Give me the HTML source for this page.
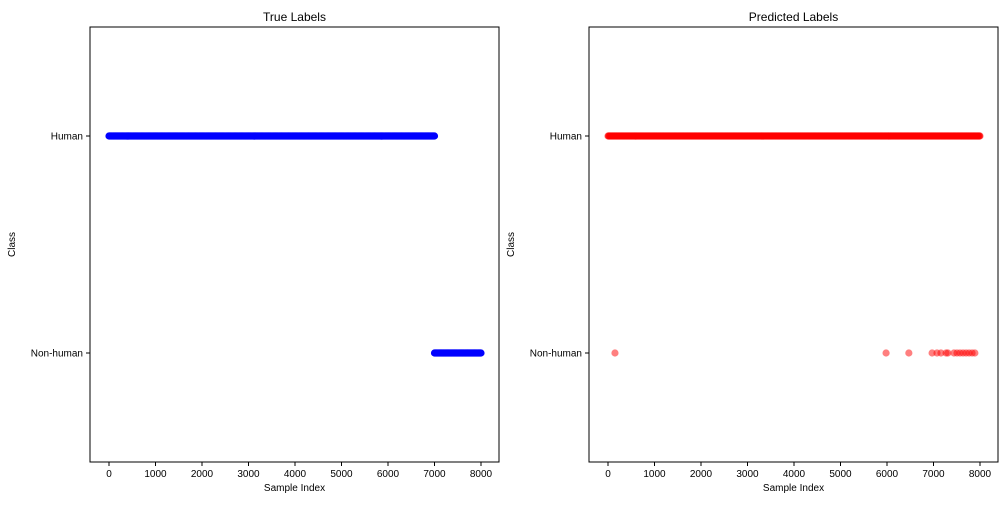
<!DOCTYPE html>
<html><head><meta charset="utf-8"><style>
body{margin:0;background:#fff;font-family:"Liberation Sans",sans-serif}
</style></head><body>
<svg id="c" width="1008" height="504" xmlns="http://www.w3.org/2000/svg" font-family="Liberation Sans, sans-serif"></svg>
<script>
const xTicks=[0,1000,2000,3000,4000,5000,6000,7000,8000];
const classes=["Human","Non-human"];
const trueHumanRange=[0,7000];
const trueNonhumanRange=[7000,8000];
const predHumanRange=[0,8000];
const predNonhumanIdx=[150,5980,6470,6970,7075,7160,7270,7310,7440,7505,7570,7635,7700,7765,7830,7890];
const svg=document.getElementById('c');
const NS="http://www.w3.org/2000/svg";
function el(t,a,p){const e=document.createElementNS(NS,t);for(const k in a)e.setAttribute(k,a[k]);(p||svg).appendChild(e);return e;}
function panel(left,title,name,color,opacity,series){
  const g=el('g',{});
  
  
  const x0=left,w=409,top=27,h=435;
  const xs=v=>x0+19+v*0.0465;
  const ys=c=>c==="Human"?136:353;
  const fr=el('rect',{x:x0,y:top,width:w,height:h,fill:'none',stroke:'#000','stroke-width':1},g);
  
  const t=el('text',{x:x0+w/2,y:21,'text-anchor':'middle','font-size':12},g);t.textContent=title;
  
  xTicks.forEach(v=>{el('line',{x1:xs(v),x2:xs(v),y1:top+h,y2:top+h+4,stroke:'#000'},g);
    const tx=el('text',{x:xs(v),y:top+h+15,'text-anchor':'middle','font-size':10},g);tx.textContent=v;
    });
  classes.forEach(c=>{el('line',{x1:x0-4,x2:x0,y1:ys(c),y2:ys(c),stroke:'#000'},g);
    const tx=el('text',{x:x0-7,y:ys(c)+3.5,'text-anchor':'end','font-size':10},g);tx.textContent=c;
    });
  const xl=el('text',{x:x0+w/2,y:491,'text-anchor':'middle','font-size':10},g);xl.textContent='Sample Index';
  
  const yl=el('text',{x:0,y:0,'text-anchor':'middle','font-size':10,transform:`translate(${x0-75},${top+h/2}) rotate(-90)`},g);yl.textContent='Class';
  
  series.forEach(s=>{
    s.idx.forEach(v=>{const p=el('circle',{cx:xs(v),cy:ys(s.cls),r:3.6,fill:color,'fill-opacity':opacity},g);
      
      });
  });
}
function rangeIdx(r){const a=[];for(let i=r[0];i<=r[1];i+=10)a.push(i);return a;}
panel(90,'True Labels','true-labels-panel','#0000ff',1,[{cls:'Human',idx:rangeIdx(trueHumanRange)},{cls:'Non-human',idx:rangeIdx(trueNonhumanRange)}]);
panel(589,'Predicted Labels','predicted-labels-panel','#ff0000',0.5,[{cls:'Human',idx:rangeIdx(predHumanRange)},{cls:'Non-human',idx:predNonhumanIdx}]);
</script>
</body></html>
